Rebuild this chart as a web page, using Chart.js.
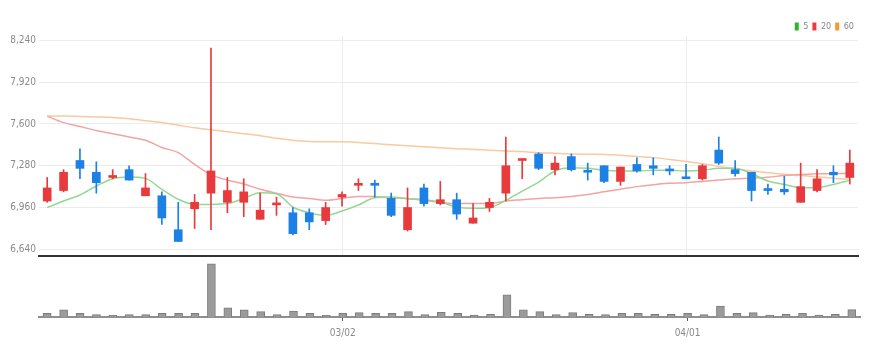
<!DOCTYPE html>
<html>
<head>
<meta charset="utf-8">
<script src="https://cdn.jsdelivr.net/npm/chart.js@4/dist/chart.umd.min.js"></script>
<style>
  html, body { margin: 0; padding: 0; background: #fff; }
  #wrap { position: relative; width: 878px; height: 355px; }
  #price { position: absolute; left: 0; top: 0; }
  #volume { position: absolute; left: 0; top: 256px; }
</style>
</head>
<body>
<div id="wrap">
  <canvas id="price" width="878" height="265"></canvas>
  <canvas id="volume" width="878" height="99"></canvas>
</div>
<script>
"use strict";

// trading days (MM/DD)
const dates = ['02/03','02/04','02/07','02/08','02/09','02/10','02/11','02/14','02/15','02/16',
  '02/17','02/18','02/21','02/22','02/23','02/24','02/25','02/28','03/02','03/03',
  '03/04','03/07','03/08','03/10','03/11','03/14','03/15','03/16','03/17','03/18',
  '03/21','03/22','03/23','03/24','03/25','03/28','03/29','03/30','03/31','04/01',
  '04/04','04/05','04/06','04/07','04/08','04/11','04/12','04/13','04/14','04/15'];
const shownDates = ['03/02', '04/01'];

// candles
const openPrices = [7010,7090,7320,7230,7190,7250,7050,7050,6790,6950,
  7070,7000,7000,6870,6980,6920,6920,6860,7040,7130,
  7140,7030,6790,7110,6990,7020,6840,6960,7070,7320,
  7370,7250,7350,7240,7280,7160,7290,7280,7250,7190,
  7180,7400,7250,7230,7100,7100,7000,7090,7230,7190];
const closePrices = [7110,7230,7260,7150,7200,7170,7110,6880,6700,7000,
  7240,7090,7080,6940,6990,6760,6850,6960,7060,7140,
  7130,6900,6960,6990,7020,6910,6880,7000,7280,7330,
  7260,7300,7250,7230,7160,7270,7240,7260,7240,7180,
  7280,7300,7220,7090,7090,7080,7120,7180,7210,7300];
const highPrices = [7190,7250,7410,7310,7250,7280,7220,7080,7000,7060,
  8180,7190,7180,7070,7040,6960,6950,7000,7080,7180,
  7170,7070,7110,7140,7160,7070,6990,7030,7500,7330,
  7380,7350,7370,7300,7280,7270,7340,7340,7280,7290,
  7290,7500,7320,7230,7140,7200,7300,7250,7280,7400];
const lowPrices = [7000,7080,7180,7070,7180,7170,7050,6830,6700,6800,
  6790,6920,6890,6870,6900,6750,6790,6830,6970,7090,
  7040,6890,6780,6970,6980,6870,6840,6930,7010,7180,
  7250,7210,7240,7170,7150,7130,7230,7210,7210,7180,
  7170,7290,7200,7010,7060,7060,7000,7080,7150,7140];

// moving averages as drawn
const ma5 = [6960,7010,7056,7125,7181,7194,7183,7099,7023,6984,
  6984,6990,7030,7074,7066,6964,6920,6900,6933,6979,
  7035,7040,7028,7020,7002,6964,6954,6959,7015,7086,
  7155,7240,7265,7260,7245,7240,7240,7245,7245,7240,
  7245,7260,7260,7219,7163,7137,7112,7112,7137,7168];
const ma20 = [7660,7610,7580,7550,7525,7500,7475,7420,7380,7290,
  7210,7170,7140,7100,7070,7040,7030,7015,7030,7045,
  7045,7035,7030,7015,7000,6990,6990,6990,7010,7020,
  7030,7035,7045,7060,7080,7100,7120,7135,7145,7150,
  7160,7170,7180,7185,7192,7205,7212,7218,7220,7222];
const ma60 = [7660,7660,7657,7653,7650,7640,7625,7610,7590,7570,
  7555,7540,7525,7510,7490,7475,7465,7463,7463,7458,
  7450,7440,7432,7425,7418,7410,7405,7398,7393,7388,
  7380,7375,7370,7368,7366,7360,7350,7342,7328,7312,
  7296,7275,7257,7240,7227,7215,7205,7195,7185,7176];

const volumes = [37000,70000,37000,23000,17000,23000,23000,37000,37000,37000,
  523000,90000,70000,53000,23000,57000,37000,17000,37000,43000,
  37000,37000,53000,23000,47000,37000,20000,27000,217000,70000,
  53000,23000,43000,27000,23000,37000,37000,27000,27000,37000,
  23000,107000,37000,43000,20000,27000,37000,20000,27000,73000];

const priceTicks = [6640, 6960, 7280, 7600, 7920, 8240];

const UP = '#e8393c';
const DOWN = '#1c80e4';

Chart.defaults.font.family = "'Liberation Sans Narrow', 'DejaVu Sans Condensed', sans-serif";
Chart.defaults.font.size = 10;
Chart.defaults.color = '#8a8a8a';

const candleColor = ctx => closePrices[ctx.dataIndex] >= openPrices[ctx.dataIndex] ? UP : DOWN;
const isShown = i => shownDates.includes(dates[i]);

const wicks = dates.map((d, i) => [lowPrices[i], highPrices[i]]);
const bodies = dates.map((d, i) => [Math.min(openPrices[i], closePrices[i]), Math.max(openPrices[i], closePrices[i])]);

// the legend sits low, so take back some of the empty space under it
const tightLegend = {
    id: 'tightLegend',
    beforeLayout(chart) {
        const lg = chart.legend;
        if (!lg || lg._tight) return;
        const fit = lg.fit;
        lg.fit = function () {
            fit.call(this);
            this.height -= 5;
        };
        lg._tight = true;
    }
};

new Chart(document.getElementById('price'), {
    type: 'bar',
    data: {
        labels: dates,
        datasets: [
            { label: 'body', data: bodies, backgroundColor: candleColor, barThickness: 8, minBarLength: 2, grouped: false, order: 0 },
            { label: 'wick', data: wicks, backgroundColor: candleColor, barThickness: 1, grouped: false, order: 1 },
            { type: 'line', label: '5', data: ma5, borderColor: '#93d891', backgroundColor: '#2db52d',
              borderWidth: 1.5, pointRadius: 0, cubicInterpolationMode: 'monotone', order: 2 },
            { type: 'line', label: '20', data: ma20, borderColor: '#f4a3a3', backgroundColor: '#ee3a3a',
              borderWidth: 1.5, pointRadius: 0, cubicInterpolationMode: 'monotone', order: 2 },
            { type: 'line', label: '60', data: ma60, borderColor: '#f9c9a0', backgroundColor: '#f59a30',
              borderWidth: 1.5, pointRadius: 0, cubicInterpolationMode: 'monotone', order: 2 }
        ]
    },
    plugins: [tightLegend],
    options: {
        responsive: false,
        animation: false,
        layout: { padding: { top: 18, right: 20, bottom: 0, left: 0 } },
        plugins: {
            tooltip: { enabled: false },
            legend: {
                position: 'top',
                align: 'end',
                labels: {
                    boxWidth: 4,
                    boxHeight: 8,
                    padding: 4,
                    color: '#888',
                    font: { size: 9 },
                    filter: item => item.datasetIndex >= 2,
                    generateLabels: chart => Chart.defaults.plugins.legend.labels.generateLabels(chart)
                        .map(item => Object.assign(item, { lineWidth: 0 }))
                }
            }
        },
        scales: {
            x: {
                offset: true,
                afterFit: scale => { scale.paddingRight = 0; },
                grid: {
                    offset: false,
                    drawTicks: false,
                    color: ctx => isShown(ctx.index) ? '#ececec' : 'rgba(0,0,0,0)'
                },
                border: { color: '#333', width: 2 },
                ticks: { display: false }
            },
            y: {
                min: 6589,
                max: 8273,
                afterBuildTicks: scale => { scale.ticks = priceTicks.map(v => ({ value: v })); },
                afterFit: scale => { scale.width = 39; },
                grid: { color: '#ececec', drawTicks: false },
                border: { display: false },
                ticks: { padding: 3, callback: v => v.toLocaleString('en-US') }
            }
        }
    }
});

new Chart(document.getElementById('volume'), {
    type: 'bar',
    data: {
        labels: dates,
        datasets: [{
            label: 'volume',
            data: volumes,
            backgroundColor: '#9b9b9b',
            borderColor: '#7c7c7c',
            borderWidth: 1,
            barThickness: 8
        }]
    },
    options: {
        responsive: false,
        animation: false,
        layout: { padding: { top: 2, right: 18, bottom: 10, left: 39 } },
        plugins: { legend: { display: false }, tooltip: { enabled: false } },
        scales: {
            x: {
                offset: true,
                grid: {
                    offset: false,
                    drawOnChartArea: false,
                    tickLength: 4,
                    tickColor: ctx => isShown(ctx.index) ? '#555' : 'rgba(0,0,0,0)'
                },
                border: { color: '#8f8f8f', width: 2 },
                ticks: {
                    autoSkip: false,
                    maxRotation: 0,
                    padding: 6,
                    color: '#8a8a8a',
                    callback: (v, i) => isShown(i) ? dates[i] : ''
                }
            },
            y: { display: false, min: 0, max: 580000 }
        }
    }
});
</script>
</body>
</html>
